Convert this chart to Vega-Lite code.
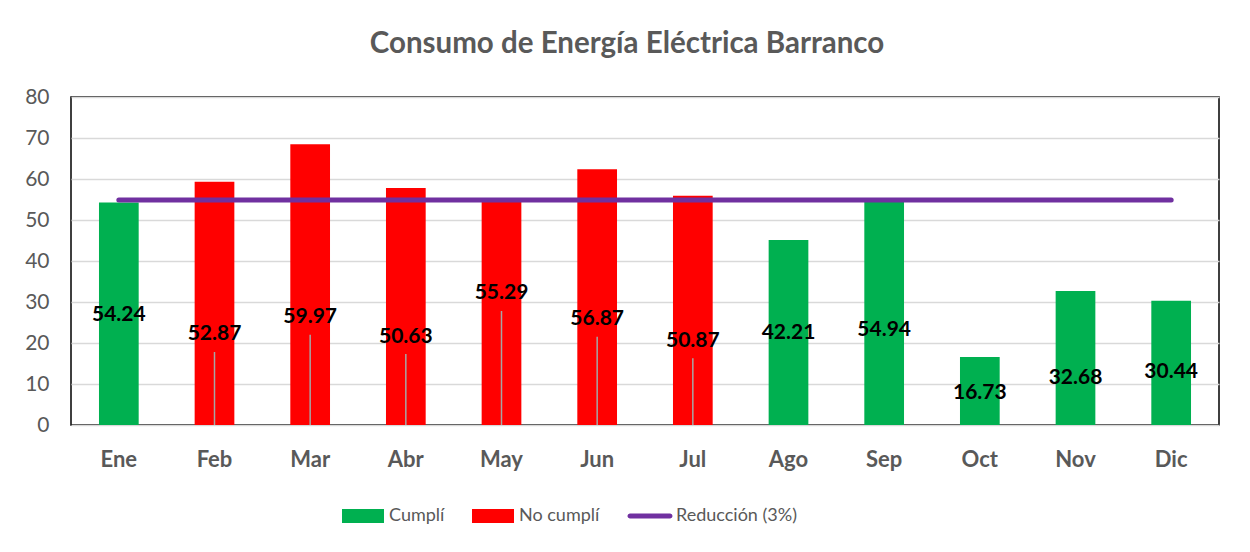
{
  "$schema": "https://vega.github.io/schema/vega-lite/v6.json",
  "autosize": "none",
  "width": 1148,
  "height": 328,
  "padding": {"left": 71, "top": 97, "right": 31, "bottom": 127},
  "background": "white",
  "title": {
    "text": "Consumo de Energía Eléctrica Barranco",
    "font": "Lato",
    "fontSize": 29.5,
    "fontWeight": "bold",
    "color": "#595959",
    "anchor": "middle",
    "offset": 27,
    "dx": -18
  },
  "config": {
    "view": {"stroke": "#000000", "strokeWidth": 1.5},
    "font": "Lato",
    "axisY": {
      "ticks": false,
      "domain": false,
      "grid": true,
      "gridColor": "#d9d9d9",
      "gridWidth": 1.5,
      "labelFont": "Lato",
      "labelFontSize": 21,
      "labelColor": "#595959",
      "labelPadding": 22,
      "labelOverlap": false,
      "title": null
    }
  },
  "data": {
    "values": [
      {"mes": "Ene", "valor": 54.24, "etiqueta": "54.24", "pos": 26.8, "guia": null, "estado": "Cumplí", "reduccion": 54.9},
      {"mes": "Feb", "valor": 59.3, "etiqueta": "52.87", "pos": 22.2, "guia": 17.8, "estado": "No cumplí", "reduccion": 54.9},
      {"mes": "Mar", "valor": 68.5, "etiqueta": "59.97", "pos": 26.3, "guia": 22.0, "estado": "No cumplí", "reduccion": 54.9},
      {"mes": "Abr", "valor": 57.8, "etiqueta": "50.63", "pos": 21.5, "guia": 17.3, "estado": "No cumplí", "reduccion": 54.9},
      {"mes": "May", "valor": 55.1, "etiqueta": "55.29", "pos": 32.2, "guia": 27.8, "estado": "No cumplí", "reduccion": 54.9},
      {"mes": "Jun", "valor": 62.4, "etiqueta": "56.87", "pos": 25.9, "guia": 21.5, "estado": "No cumplí", "reduccion": 54.9},
      {"mes": "Jul", "valor": 55.9, "etiqueta": "50.87", "pos": 20.5, "guia": 16.3, "estado": "No cumplí", "reduccion": 54.9},
      {"mes": "Ago", "valor": 45.1, "etiqueta": "42.21", "pos": 22.4, "guia": null, "estado": "Cumplí", "reduccion": 54.9},
      {"mes": "Sep", "valor": 54.94, "etiqueta": "54.94", "pos": 23.2, "guia": null, "estado": "Cumplí", "reduccion": 54.9},
      {"mes": "Oct", "valor": 16.6, "etiqueta": "16.73", "pos": 7.8, "guia": null, "estado": "Cumplí", "reduccion": 54.9},
      {"mes": "Nov", "valor": 32.7, "etiqueta": "32.68", "pos": 11.5, "guia": null, "estado": "Cumplí", "reduccion": 54.9},
      {"mes": "Dic", "valor": 30.3, "etiqueta": "30.44", "pos": 12.9, "guia": null, "estado": "Cumplí", "reduccion": 54.9}
    ]
  },
  "encoding": {
    "x": {
      "field": "mes",
      "type": "ordinal",
      "sort": null,
      "scale": {"paddingInner": 0.585, "paddingOuter": 0.2925},
      "axis": {
        "title": null,
        "labelAngle": 0,
        "ticks": false,
        "domain": false,
        "labelFont": "Lato",
        "labelFontSize": 22,
        "labelFontWeight": "bold",
        "labelColor": "#595959",
        "labelPadding": 24
      }
    }
  },
  "layer": [
    {
      "mark": {"type": "bar"},
      "encoding": {
        "y": {
          "field": "valor",
          "type": "quantitative",
          "scale": {"domain": [0, 80], "nice": false},
          "axis": {"tickCount": 8, "tickMinStep": 10}
        },
        "color": {
          "field": "estado",
          "type": "nominal",
          "scale": {
            "domain": ["Cumplí", "No cumplí", "Reducción  (3%)"],
            "range": ["#00b050", "#ff0000", "#7030a0"]
          },
          "legend": {
            "title": null,
            "orient": "none",
            "direction": "horizontal",
            "legendX": 271,
            "legendY": 398,
            "labelFont": "Lato",
            "labelFontSize": 18,
            "labelColor": "#595959",
            "labelOffset": 5,
            "columnPadding": 27,
            "symbolSize": 1764,
            "symbolOpacity": 1,
            "symbolStrokeWidth": 0,
            "encode": {
              "symbols": {
                "update": {
                  "shape": {"signal": "datum.value === 'Reducción  (3%)' ? 'M-0.95,-0.12H0.95A0.12,0.12 0 0 1 0.95,0.12H-0.95A0.12,0.12 0 0 1 -0.95,-0.12Z' : 'M-1,-0.333H1V0.333H-1Z'"},
                  "strokeWidth": {"value": 0},
                  "opacity": {"value": 1}
                }
              }
            }
          }
        }
      }
    },
    {
      "transform": [{"filter": "isValid(datum.guia)"}],
      "mark": {"type": "rule", "color": "#a6a6a6", "strokeWidth": 1.5},
      "encoding": {
        "y": {"field": "guia", "type": "quantitative"},
        "y2": {"datum": 0}
      }
    },
    {
      "mark": {"type": "line", "strokeWidth": 5, "strokeCap": "round"},
      "encoding": {
        "y": {"field": "reduccion", "type": "quantitative"},
        "color": {"datum": "Reducción  (3%)"}
      }
    },
    {
      "mark": {"type": "text", "font": "Lato", "fontSize": 21, "fontWeight": "bold", "color": "#000000", "baseline": "middle"},
      "encoding": {
        "y": {"field": "pos", "type": "quantitative"},
        "text": {"field": "etiqueta"}
      }
    }
  ]
}
